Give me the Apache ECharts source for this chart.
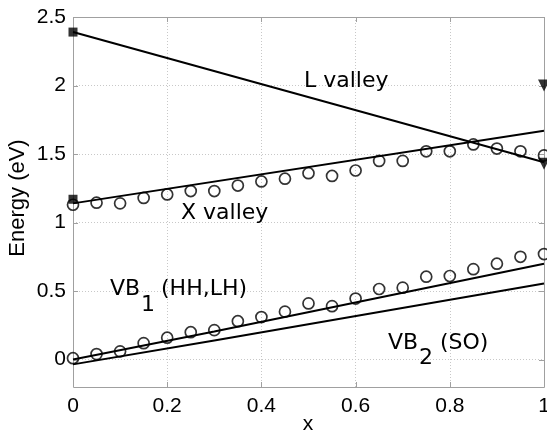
<!DOCTYPE html>
<html>
<head>
<meta charset="utf-8">
<script src="https://cdn.jsdelivr.net/npm/echarts@6/dist/echarts.min.js"></script>
<style>html,body{margin:0;padding:0;background:#fff}#c{width:547px;height:439px}</style>
</head>
<body>
<div id="c"></div>
<script>
// ---- data ----
const xTicks = [0, 0.2, 0.4, 0.6, 0.8, 1];
const yTicks = [0, 0.5, 1, 1.5, 2, 2.5];
const xObs = [0,0.05,0.1,0.15,0.2,0.25,0.3,0.35,0.4,0.45,0.5,0.55,0.6,0.65,0.7,0.75,0.8,0.85,0.9,0.95,1];
const xValleyObs = [1.13,1.145,1.14,1.18,1.205,1.23,1.23,1.27,1.30,1.32,1.36,1.34,1.38,1.45,1.45,1.52,1.52,1.57,1.54,1.52,1.49];
const vb1Obs = [0.01,0.04,0.06,0.12,0.16,0.20,0.215,0.28,0.31,0.35,0.41,0.39,0.445,0.515,0.525,0.605,0.61,0.66,0.70,0.75,0.77];
const lValleyX = [0, 1];
const lValleyY = [2.39, 1.44];
const xValleyX = [0, 1];
const xValleyY = [1.14, 1.67];
const vb1X = [0, 0.3, 1];
const vb1Y = [0.0, 0.205, 0.70];
const vb2X = [0, 0.3, 1];
const vb2Y = [-0.035, 0.14, 0.555];
const squareX = [0, 0];
const squareY = [2.39, 1.17];
const triX = [1, 1];
const triY = [2.0, 1.43];
const xRange = [0, 1];
const yRange = [-0.2, 2.5];

const zip = (a, b) => a.map((v, i) => [v, b[i]]);
const chart = echarts.init(document.getElementById('c'));
const axisColor = '#a0a0a0';
const gridStyle = () => ({color: '#c8c8c8', type: [1, 2], width: 1});
const tickFont = () => ({fontFamily: 'Liberation Sans', fontSize: 21, color: '#000'});
const lineSeries = (x, y) => ({type: 'line', data: zip(x, y), symbol: 'none', lineStyle: {color: '#000', width: 2}, z: 3});
const ann = 'DejaVu Sans';
const txt = (s, x, y) => ({type: 'text', x: x, y: y, style: {text: s, font: '22px "' + ann + '"', fill: '#000', verticalAlign: 'middle'}, z: 10});

chart.setOption({
  animation: false,
  grid: {left: 73, right: 3, top: 17, bottom: 52, outerBoundsMode: 'none'},
  xAxis: [{
    type: 'value', min: xRange[0], max: xRange[1], interval: 0.2,
    axisLine: {show: false}, axisTick: {show: false},
    axisLabel: Object.assign({margin: 9, formatter: v => String(v)}, tickFont()),
    splitLine: {show: true, lineStyle: gridStyle()}
  }],
  yAxis: [{
    type: 'value', min: yRange[0], max: yRange[1],
    axisLine: {show: false}, axisTick: {show: false, customValues: yTicks},
    axisLabel: Object.assign({margin: 7, customValues: yTicks, formatter: v => String(v)}, tickFont()),
    splitLine: {show: true, lineStyle: gridStyle()}
  }],
  series: [
    lineSeries(lValleyX, lValleyY),
    lineSeries(xValleyX, xValleyY),
    lineSeries(vb1X, vb1Y),
    lineSeries(vb2X, vb2Y),
    {type: 'scatter', data: zip(xObs, xValleyObs), symbol: 'circle', symbolSize: 11,
      itemStyle: {color: 'rgba(0,0,0,0)', borderColor: '#000', borderWidth: 1.7}, z: 4},
    {type: 'scatter', data: zip(xObs, vb1Obs), symbol: 'circle', symbolSize: 11,
      itemStyle: {color: 'rgba(0,0,0,0)', borderColor: '#000', borderWidth: 1.7}, z: 4},
    {type: 'scatter', data: zip(squareX, squareY), symbol: 'rect', symbolSize: 9, itemStyle: {color: '#000'}, z: 5},
    {type: 'scatter', data: zip(triX, triY), symbol: 'triangle', symbolRotate: 180, symbolSize: 12, itemStyle: {color: '#000'}, z: 5}
  ]
});

// frame and inward ticks, positioned through the chart's own scales
const px = v => chart.convertToPixel({xAxisIndex: 0}, v);
const py = v => chart.convertToPixel({yAxisIndex: 0}, v);
const x0 = px(xRange[0]), x1 = px(xRange[1]);
const y0 = py(yRange[0]), y1 = py(yRange[1]);
const frameStyle = {stroke: axisColor, lineWidth: 1, fill: null};
const tickLen = 5;
const seg = (a, b, c, d) => ({type: 'line', shape: {x1: a, y1: b, x2: c, y2: d}, style: frameStyle, silent: true, z: 2});
const els = [
  {type: 'rect', shape: {x: Math.round(x0) + 0.5, y: Math.round(y1) + 0.5, width: Math.round(x1 - x0), height: Math.round(y0 - y1)}, style: frameStyle, silent: true, z: 2}
];
xTicks.forEach(v => {
  const x = Math.round(px(v)) + 0.5;
  els.push(seg(x, y0, x, y0 - tickLen));
  els.push(seg(x, y1, x, y1 + tickLen));
});
yTicks.forEach(v => {
  const y = Math.round(py(v)) + 0.5;
  els.push(seg(x0, y, x0 + tickLen, y));
  els.push(seg(x1, y, x1 - tickLen, y));
});
els.push(
  txt('L valley', 304, 81),
  txt('X valley', 181, 213),
  txt('VB', 110, 289),
  txt('1', 141, 305),
  txt('(HH,LH)', 161, 289),
  txt('VB', 388, 343),
  txt('2', 419, 358),
  txt('(SO)', 440, 343),
  {type: 'text', x: 308, y: 424, style: {text: 'x', font: '21px "Liberation Sans"', fill: '#000', align: 'center', verticalAlign: 'middle'}},
  {type: 'text', x: 18, y: 198, rotation: Math.PI / 2, style: {text: 'Energy (eV)', font: '22px "Liberation Sans"', fill: '#000', align: 'center', verticalAlign: 'middle'}}
);
chart.setOption({graphic: els});
</script>
</body>
</html>
